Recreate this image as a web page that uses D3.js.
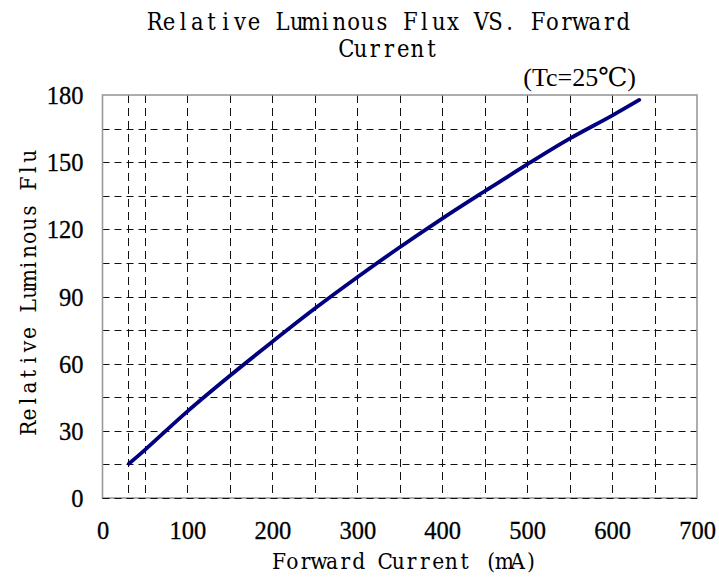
<!DOCTYPE html>
<html>
<head>
<meta charset="utf-8">
<script src="https://cdn.jsdelivr.net/npm/d3@7"></script>
<style>
  html, body { margin: 0; padding: 0; background: #fff; }
  svg { display: block; }
</style>
</head>
<body>
<svg id="chart" width="719" height="579"></svg>
<script>
// ---- data ----
const current = [31, 50, 100, 150, 200, 250, 300, 350, 400, 450, 500, 550, 600, 632];
const flux    = [15.3, 21.5, 38.7, 54.6, 69.8, 84.6, 98.6, 112, 124.8, 137, 149, 160.5, 170.8, 177.8];
const xTicks = [0, 100, 200, 300, 400, 500, 600, 700];
const yTicks = [0, 30, 60, 90, 120, 150, 180];
const xGrid = [30, 50, 100, 150, 200, 250, 300, 350, 400, 450, 500, 550, 600, 650];
const yGrid = [0, 15, 30, 45, 60, 75, 90, 105, 120, 135, 150, 165];
const titleLines = ["Relative Luminous Flux VS. Forward", "Current"];
const condition = "(Tc=25\u2103)";
const xTitle = "Forward Current (mA)";
const yTitle = "Relative Luminous Flux";

// ---- layout ----
const L = 102.5, R = 697, T = 95, B = 498;
const svg = d3.select("#chart");
const x = d3.scaleLinear().domain([0, 700]).range([L, R]);
const y = d3.scaleLinear().domain([0, 180]).range([B, T]);
const serif = "'Liberation Serif', 'DejaVu Serif', serif";
const slab = "'DejaVu Serif Condensed', 'DejaVu Serif', serif";

// monospace-like placement of serif glyphs: one text element, per-character x list
function monoText(sel, str, cx, cell) {
  const n = str.length;
  const start = cx - n * cell / 2 + cell / 2;
  const xs = d3.range(n).map(i => (start + i * cell).toFixed(2)).join(" ");
  return sel.attr("x", xs).attr("text-anchor", "middle")
    .attr("font-family", slab).attr("font-stretch", "condensed").attr("fill", "#000").text(str);
}

// grid
const grid = svg.append("g");
grid.selectAll("line.v").data(xGrid).enter().append("line")
  .attr("x1", d => Math.round(x(d)) + 0.5).attr("x2", d => Math.round(x(d)) + 0.5)
  .attr("y1", T).attr("y2", B)
  .attr("stroke", "#111").attr("stroke-width", 1).attr("stroke-dasharray", "8,5");
grid.selectAll("line.h").data(yGrid).enter().append("line")
  .attr("y1", d => Math.round(y(d)) + 0.5).attr("y2", d => Math.round(y(d)) + 0.5)
  .attr("x1", L).attr("x2", R)
  .attr("stroke", "#111").attr("stroke-width", 1).attr("stroke-dasharray", "7,5");

// border
svg.append("rect").attr("x", L).attr("y", T).attr("width", R - L).attr("height", B - T)
  .attr("fill", "none").attr("stroke", "#999").attr("stroke-width", 1.6);
svg.append("line").attr("x1", L).attr("x2", R)
  .attr("y1", Math.round(y(0)) + 0.5).attr("y2", Math.round(y(0)) + 0.5)
  .attr("stroke", "#111").attr("stroke-dasharray", "7,5");

// axes labels (via d3 axes, domain/ticks hidden)
const xAxis = svg.append("g").attr("transform", `translate(0,${B})`)
  .call(d3.axisBottom(x).tickValues(xTicks).tickSize(0).tickPadding(41));
xAxis.select(".domain").remove();
xAxis.selectAll("text").attr("font-family", serif).attr("font-size", 24.5).attr("fill", "#000")
  .attr("stroke", "#000").attr("stroke-width", 0.3).attr("dy", 0);

const yAxis = svg.append("g").attr("transform", `translate(${L},0)`)
  .call(d3.axisLeft(y).tickValues(yTicks).tickSize(0).tickPadding(19));
yAxis.select(".domain").remove();
yAxis.selectAll("text").attr("font-family", serif).attr("font-size", 24.5).attr("fill", "#000")
  .attr("stroke", "#000").attr("stroke-width", 0.3).attr("dy", "0.35em");

// curve
const pts = current.map((c, i) => [c, flux[i]]);
svg.append("path").datum(pts)
  .attr("fill", "none").attr("stroke", "#00007f").attr("stroke-width", 3.8)
  .attr("stroke-linecap", "round")
  .attr("d", d3.line().x(d => x(d[0])).y(d => y(d[1])).curve(d3.curveCatmullRom));

// titles
monoText(svg.append("text").attr("y", 30).attr("font-size", 23.5), titleLines[0], 389, 14.2);
monoText(svg.append("text").attr("y", 57).attr("font-size", 23.5), titleLines[1], 389, 14.2);
svg.append("text").attr("x", 636).attr("y", 86).attr("text-anchor", "end")
  .attr("font-family", serif).attr("font-size", 26).attr("fill", "#000").text(condition);

monoText(svg.append("text").attr("y", 569).attr("font-size", 22.5), xTitle, 405, 13.25);

svg.append("clipPath").attr("id", "yclip").append("rect")
  .attr("x", 0).attr("y", 149).attr("width", 60).attr("height", 400);
const yt = svg.append("g").attr("clip-path", "url(#yclip)")
  .append("text").attr("transform", "translate(36,435) rotate(-90)")
  .attr("y", 0).attr("font-size", 22.5);
monoText(yt, yTitle, yTitle.length * 13.6 / 2, 13.6);
</script>
</body>
</html>
